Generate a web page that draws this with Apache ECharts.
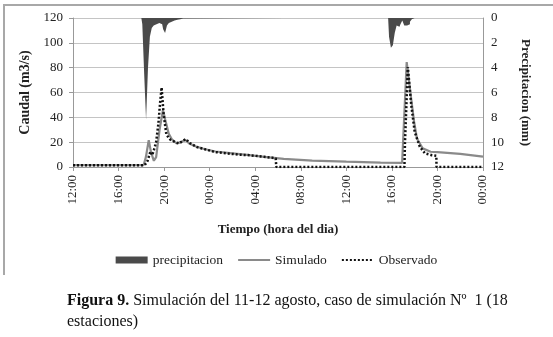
<!DOCTYPE html>
<html>
<head>
<meta charset="utf-8">
<script src="https://cdn.jsdelivr.net/npm/echarts@6/dist/echarts.min.js"></script>
<style>
  html, body { margin: 0; padding: 0; background: #fff; }
  #chart { width: 553px; height: 337px; }
</style>
</head>
<body>
<div id="chart"></div>
<script>
// horas desde las 12:00 del dia 11
var tickLabels = ['12:00', '16:00', '20:00', '00:00', '04:00', '08:00', '12:00', '16:00', '20:00', '00:00'];

// precipitacion (mm) cada 10 min
var precipHours = [6.0, 6.17, 6.33, 6.5, 6.67, 6.83, 7.0, 7.17, 7.33, 7.5, 7.67, 7.83, 8.0, 8.17, 8.33, 8.5, 8.67, 8.83, 9.0, 9.17, 9.33, 9.5, 9.67, 9.83,
                   27.67, 27.83, 28.0, 28.17, 28.33, 28.5, 28.67, 28.83, 29.0, 29.17, 29.33, 29.5, 29.67, 29.83, 30.0];
var precipMm = [0, 0.5, 4.5, 8.2, 4.0, 1.5, 0.8, 0.6, 0.5, 0.4, 0.3, 0.5, 0.9, 1.2, 0.6, 0.4, 0.3, 0.2, 0.2, 0.15, 0.1, 0.1, 0.05, 0,
                0, 1.5, 2.4, 2.2, 1.2, 0.6, 0.7, 0.5, 0.2, 0.6, 0.6, 0.5, 0.3, 0.1, 0];

// caudal simulado (m3/s)
var simHours = [0, 6.2, 6.4, 6.65, 6.85, 7.1, 7.3, 7.6, 7.9, 8.1, 8.4, 8.7, 9.1, 9.5, 9.85, 10.2, 10.8, 11.5, 12.5, 14, 15.5, 17, 18.5, 21, 24, 27, 28.9,
                29.0, 29.3, 29.65, 29.95, 30.2, 30.7, 31.4, 32, 34, 36];
var simFlow = [1.5, 1.5, 8, 21.5, 12, 5, 8, 30, 46, 38, 27, 22, 19, 20, 22, 19, 16.5, 14.5, 12.5, 11, 9.5, 8, 6.5, 5.2, 4.3, 3.6, 3.3,
               4.5, 84.5, 58, 36.5, 23, 15, 12.3, 12, 10.5, 8.3];

// caudal observado (m3/s)
var obsHours = [0, 6.3, 6.55, 6.8, 6.95, 7.1, 7.3, 7.5, 7.65, 7.78, 7.95, 8.2, 8.55, 9.0, 9.3, 9.9, 10.3, 10.9, 11.5, 12.5, 13.5, 14.5, 15.5, 16.5, 17.5, 17.8, 17.85,
                29.1, 29.15, 29.4, 29.7, 30.0, 30.45, 30.9, 31.5, 31.9, 31.92, 36];
var obsFlow = [1.5, 1.5, 5, 12.5, 9.5, 13.5, 20, 35, 52, 64, 43, 26, 22, 20, 19, 22.5, 19, 16, 14.5, 12, 11, 10, 9.5, 8.5, 7.5, 7, 0,
               0, 20, 80.5, 50, 28.4, 16.4, 11, 9.5, 9, 0, 0];

function pairs(xs, ys) {
  var out = [];
  for (var i = 0; i < xs.length; i++) out.push([xs[i], ys[i]]);
  return out;
}

var serif = 'Liberation Serif';
var myChart = echarts.init(document.getElementById('chart'));
var option = {
  backgroundColor: '#fff',
  animation: false,
  textStyle: { fontFamily: serif },
  grid: { left: 73, right: 70, top: 18, bottom: 170 },
  legend: {
    top: 248,
    left: 'center',
    itemWidth: 32,
    itemHeight: 7,
    itemGap: 14,
    textStyle: { fontFamily: serif, fontSize: 13.5, color: '#222' },
    data: [{ name: 'precipitacion', icon: 'rect' }, 'Simulado', 'Observado']
  },
  xAxis: {
    type: 'value',
    min: 0,
    max: 36,
    interval: 4,
    name: 'Tiempo (hora del dia)',
    nameLocation: 'middle',
    nameGap: 56,
    nameTextStyle: { fontFamily: serif, fontSize: 13, fontWeight: 'bold', color: '#222' },
    axisLine: { lineStyle: { color: '#999', width: 1 } },
    axisTick: { show: true, length: 4, lineStyle: { color: '#999' } },
    splitLine: { show: false },
    axisLabel: {
      rotate: 90,
      margin: 8,
      fontSize: 13,
      color: '#222',
      fontFamily: serif,
      formatter: function (v) { return tickLabels[Math.round(v / 4)]; }
    }
  },
  yAxis: [
    {
      type: 'value',
      min: 0,
      max: 120,
      interval: 20,
      name: 'Caudal (m3/s)',
      nameLocation: 'middle',
      nameRotate: 90,
      nameGap: 41,
      nameTextStyle: { fontFamily: serif, fontSize: 14, fontWeight: 'bold', color: '#222' },
      axisLine: { show: true, lineStyle: { color: '#999' } },
      axisTick: { show: true, length: 4, lineStyle: { color: '#999' } },
      splitLine: { lineStyle: { color: '#c4c4c4', width: 1 } },
      axisLabel: { fontSize: 13, color: '#222', fontFamily: serif, margin: 10 }
    },
    {
      type: 'value',
      min: 0,
      max: 12,
      interval: 2,
      inverse: true,
      name: 'Precipitacion (mm)',
      nameLocation: 'middle',
      nameRotate: -90,
      nameGap: 36,
      nameTextStyle: { fontFamily: serif, fontSize: 13, fontWeight: 'bold', color: '#222' },
      axisLine: { show: true, lineStyle: { color: '#999' } },
      axisTick: { show: false },
      splitLine: { show: false },
      axisLabel: { fontSize: 13, color: '#222', fontFamily: serif, margin: 8 }
    }
  ],
  series: [
    {
      // hietograma: escalones rellenos desde el eje invertido
      name: 'precipitacion',
      type: 'line',
      yAxisIndex: 1,
      step: 'middle',
      symbol: 'none',
      color: '#4a4a4a',
      lineStyle: { width: 0, color: '#4a4a4a' },
      areaStyle: { color: '#4a4a4a', opacity: 1 },
      data: pairs(precipHours, precipMm)
    },
    {
      name: 'Simulado',
      type: 'line',
      symbol: 'none',
      lineStyle: { color: '#8a8a8a', width: 2.2 },
      itemStyle: { color: '#8a8a8a', opacity: 0 },
      data: pairs(simHours, simFlow)
    },
    {
      name: 'Observado',
      type: 'line',
      symbol: 'none',
      lineStyle: { color: '#111', width: 2.5, type: [2, 2] },
      itemStyle: { color: '#111', opacity: 0 },
      data: pairs(obsHours, obsFlow)
    }
  ],
  graphic: [
    {
      type: 'polyline',
      shape: { points: [[4, 275], [4, 5], [553, 5]] },
      style: { stroke: '#a8a8a8', lineWidth: 2, fill: null },
      silent: true
    },
    {
      type: 'text',
      left: 67,
      top: 290,
      style: {
        text: '{b|Figura 9.} Simulación del 11-12 agosto, caso de simulación Nº  1 (18\nestaciones)',
        fontFamily: serif,
        fontSize: 16,
        lineHeight: 21,
        fill: '#111',
        rich: {
          b: { fontFamily: serif, fontSize: 16, fontWeight: 'bold', fill: '#111', lineHeight: 21 }
        }
      }
    }
  ]
};
myChart.setOption(option);
</script>
</body>
</html>
